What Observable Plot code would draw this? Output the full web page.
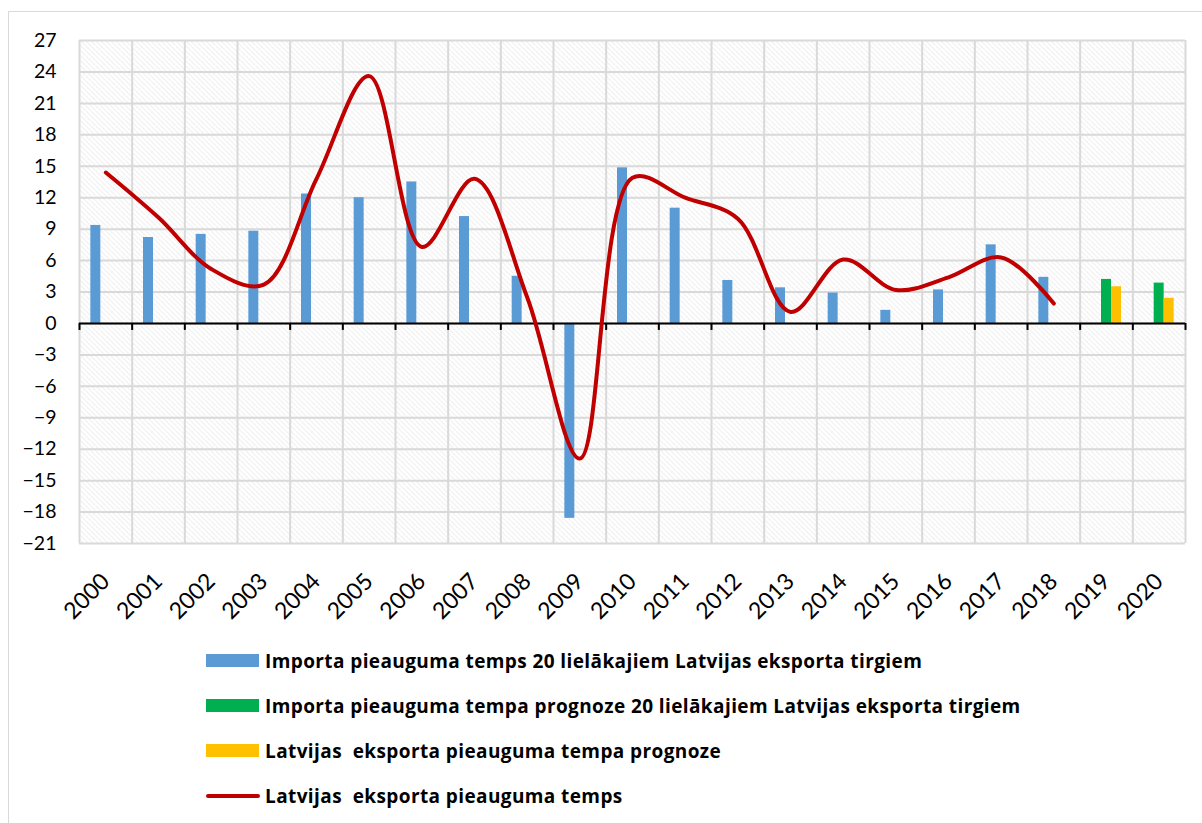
<!DOCTYPE html>
<html>
<head>
<meta charset="utf-8">
<script src="https://cdn.jsdelivr.net/npm/d3@7"></script>
<script src="https://cdn.jsdelivr.net/npm/@observablehq/plot@0.6"></script>
<style>
  html, body { margin: 0; padding: 0; background: #fff; }
  body { width: 1202px; height: 823px; position: relative; overflow: hidden; font-family: Lato, "Open Sans", sans-serif; }
  #frame { position: absolute; left: 8px; top: 11px; width: 1210px; height: 830px; border: 1.5px solid #d9d9d9; box-sizing: border-box; }
  #chart { position: absolute; left: 0; top: 0; }
  #legend { position: absolute; left: 206px; top: 638px; }
  .row { display: flex; align-items: center; height: 45px; font-family: "Open Sans", sans-serif; font-weight: bold; font-size: 19px; letter-spacing: 0.4px; color: #000; white-space: pre; }
  .sw { width: 53px; height: 13px; margin-right: 6px; }
  .ln { width: 54px; height: 4px; border-radius: 2px; margin-right: 5px; }
</style>
</head>
<body>
<div id="frame"></div>
<div id="chart"></div>
<div id="legend"></div>
<script>
const years = ["2000","2001","2002","2003","2004","2005","2006","2007","2008","2009","2010","2011","2012","2013","2014","2015","2016","2017","2018","2019","2020"];
const importGrowth = [9.35, 8.2, 8.5, 8.8, 12.35, 12.0, 13.5, 10.2, 4.5, -18.6, 14.85, 11.0, 4.1, 3.4, 2.9, 1.25, 3.2, 7.5, 4.4, null, null];
const importForecast = [null, null, null, null, null, null, null, null, null, null, null, null, null, null, null, null, null, null, null, 4.2, 3.85];
const exportForecast = [null, null, null, null, null, null, null, null, null, null, null, null, null, null, null, null, null, null, null, 3.5, 2.4];
const exportGrowth = [14.4, 10.1, 5.2, 3.7, 13.8, 23.6, 7.3, 13.8, 2.5, -12.9, 13.9, 12.0, 10.0, 1.1, 6.1, 3.2, 4.4, 6.3, 1.9, null, null];
const yTicks = d3.range(-21, 28, 3);
const seriesNames = [
  "Importa pieauguma temps 20 lielākajiem Latvijas eksporta tirgiem",
  "Importa pieauguma tempa prognoze 20 lielākajiem Latvijas eksporta tirgiem",
  "Latvijas  eksporta pieauguma tempa prognoze",
  "Latvijas  eksporta pieauguma temps"
];
const colors = ["#5B9BD5", "#00B050", "#FFC000", "#C00000"];

const W = 1202, H = 640;
const mL = 79, mR = 17, mT = 40, mB = 97;
const bw = (W - mL - mR) / years.length;
const barW = 10;

const toRows = arr => years.map((y, i) => ({year: y, v: arr[i]})).filter(d => d.v != null);
const blue = toRows(importGrowth), green = toRows(importForecast), yellow = toRows(exportForecast), red = toRows(exportGrowth);

const inset = k => ({insetLeft: bw / 2 + (k - 1.5) * barW, insetRight: bw / 2 - (k - 0.5) * barW});

const grid = "#d9d9d9";
const plot = Plot.plot({
  width: W, height: H,
  marginLeft: mL, marginRight: mR, marginTop: mT, marginBottom: mB,
  style: {fontFamily: "Lato, 'Open Sans', sans-serif", background: "transparent", color: "#000"},
  x: {type: "band", domain: years, padding: 0, round: false, label: null},
  y: {domain: [-21, 27], label: null},
  marks: [
    Plot.frame({fill: "url(#hatch)", stroke: null}),
    Plot.gridY(yTicks, {stroke: grid, strokeOpacity: 1, strokeWidth: 2}),
    Plot.ruleX(years, {x: d => d, stroke: grid, strokeWidth: 2, dx: -bw / 2}),
    Plot.ruleX(years.slice(-1), {x: d => d, stroke: grid, strokeWidth: 2, dx: bw / 2}),
    Plot.barY(blue, {x: "year", y: "v", fill: colors[0], ...inset(0)}),
    Plot.barY(green, {x: "year", y: "v", fill: colors[1], ...inset(1)}),
    Plot.barY(yellow, {x: "year", y: "v", fill: colors[2], ...inset(2)}),
    Plot.ruleY([0], {stroke: "#000", strokeWidth: 2}),
    Plot.ruleX(years, {x: d => d, y1: 0, y2: 0, insetBottom: -7, stroke: "#000", strokeWidth: 2, dx: -bw / 2}),
    Plot.ruleX(years.slice(-1), {x: d => d, y1: 0, y2: 0, insetBottom: -7, stroke: "#000", strokeWidth: 2, dx: bw / 2}),
    Plot.line(red, {x: "year", y: "v", stroke: colors[3], strokeWidth: 4, curve: "catmull-rom"}),
    Plot.axisY(yTicks, {tickSize: 0, tickPadding: 23, fontSize: 19.5, fill: "#000"}),
    Plot.axisX(years, {tickSize: 0, tickRotate: -45, tickPadding: 34, fontSize: 23, fill: "#000", dx: 0})
  ]
});

const defs = d3.select(plot).insert("defs", ":first-child");
const pat = defs.append("pattern").attr("id", "hatch").attr("patternUnits", "userSpaceOnUse")
  .attr("width", 5).attr("height", 5);
pat.append("rect").attr("width", 5).attr("height", 5).attr("fill", "#fff");
pat.append("path").attr("d", "M-1,-1 L6,6 M-1,4 L1,6 M4,-1 L6,1").attr("stroke", "#dadada").attr("stroke-width", 1).attr("stroke-dasharray", "2,1");

document.getElementById("chart").appendChild(plot);

const legend = document.getElementById("legend");
seriesNames.forEach((name, i) => {
  const row = document.createElement("div");
  row.className = "row";
  const sw = document.createElement("div");
  sw.className = i === 3 ? "ln" : "sw";
  sw.style.background = colors[i];
  const t = document.createElement("span");
  t.textContent = name;
  row.appendChild(sw); row.appendChild(t);
  legend.appendChild(row);
});
</script>
</body>
</html>
